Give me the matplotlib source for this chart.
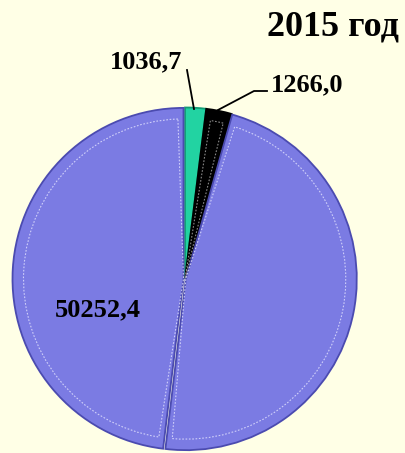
import matplotlib.pyplot as plt
from matplotlib.patches import Wedge

# data
categories = ['green', 'black', 'purple']
values = [1036.7, 1266.0, 50252.4]
title = '2015 год'

colors = ['#22d3a2', '#000000', '#7b7be3']
edge_colors = ['#129c74', '#000000', '#4b4bb0']

fig = plt.figure(figsize=(4.06, 4.53), dpi=100)
fig.patch.set_facecolor('#ffffe6')
ax = fig.add_axes([0, 0, 1, 1])

H = 453
cx, cy, r = 185, H - 279, 171

# the big slice is drawn in two pieces, as in the original picture
right_share = 0.497
pie_vals = [values[0], values[1], values[2] * right_share, values[2] * (1 - right_share)]
pie_cols = [colors[0], colors[1], colors[2], colors[2]]
pie_edges = [edge_colors[0], edge_colors[1], edge_colors[2], edge_colors[2]]
explode = [0.5, 0.5, 0.8, 1.5]

wedges, _ = ax.pie(pie_vals, colors=pie_cols, startangle=90, counterclock=False,
                   radius=r, center=(cx, cy), explode=explode, frame=True,
                   wedgeprops=dict(linewidth=1.3))
for i, (w, ec) in enumerate(zip(wedges, pie_edges)):
    w.set_edgecolor(ec)
    if i == 0:
        continue
    # bevel-like inner outline
    light = '#e4e4ff' if i > 1 else '#aaaaaa'
    inner = Wedge(w.center, w.r - 11, w.theta1 + 2, w.theta2 - 2,
                  facecolor='none', edgecolor=light,
                  linewidth=0.8, linestyle=(0, (1.5, 1.5)), alpha=0.8)
    ax.add_patch(inner)

ax.set_xlim(0, 406)
ax.set_ylim(0, 453)
ax.set_aspect('equal')
ax.axis('off')

font = dict(family='Liberation Serif', fontweight='bold', color='black')
ax.text(333, H - 27, title, fontsize=26, ha='center', va='center', **font)

labels = [f'{v:.1f}'.replace('.', ',') for v in values]
ax.text(146, H - 62, labels[0], fontsize=19, ha='center', va='center', **font)
ax.text(307, H - 85, labels[1], fontsize=19, ha='center', va='center', **font)
ax.text(98, H - 310, labels[2], fontsize=19, ha='center', va='center', **font)

# leader lines
ax.plot([187, 194], [H - 70, H - 109], color='black', linewidth=1.3)
ax.plot([267, 254, 218], [H - 91, H - 91, H - 110], color='black', linewidth=1.3)

fig.savefig('out.png', dpi=100, facecolor=fig.get_facecolor())
